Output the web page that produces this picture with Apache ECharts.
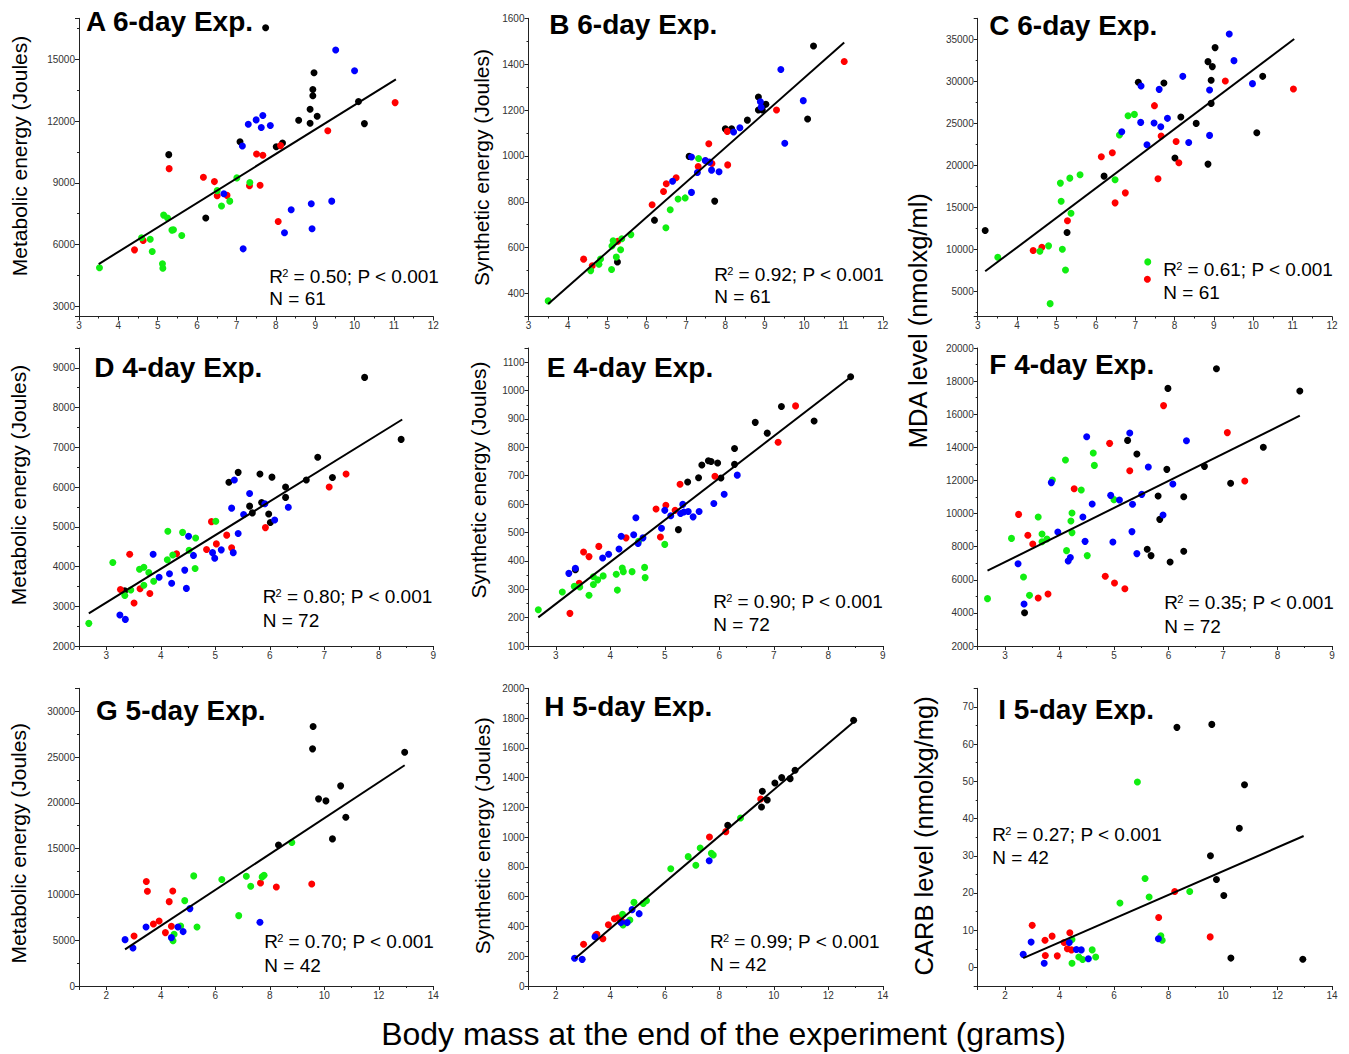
<!DOCTYPE html>
<html>
<head>
<meta charset="utf-8">
<script src="https://cdn.jsdelivr.net/npm/echarts@6/dist/echarts.min.js"></script>
<style>html,body{margin:0;padding:0;background:#fff}#c{width:1349px;height:1054px}</style>
</head>
<body>
<div id="c"></div>
<script>
// ---------------- DATA ----------------
const panelTitles = ['A 6-day Exp.','B 6-day Exp.','C 6-day Exp.','D 4-day Exp.','E 4-day Exp.','F 4-day Exp.','G 5-day Exp.','H 5-day Exp.','I 5-day Exp.'];
const r2Values = ['0.50','0.92','0.61','0.80','0.90','0.35','0.70','0.99','0.27'];
const nValues = ['61','61','61','72','72','72','42','42','42'];
const xAxisTitle = 'Body mass at the end of the experiment (grams)';
const yTitleEnergyMet = 'Metabolic energy (Joules)';
const yTitleEnergySyn = 'Synthetic energy (Joules)';
const yTitleMDA = 'MDA level (nmolxg/ml)';
const yTitleCARB = 'CARB level (nmolxg/mg)';
// axis ranges [min, max, tick step]
const xRanges = [[3,12,1],[2.5,9,1],[1,14,2]];
const yRanges = [[2500,17000,3000],[300,1600,200],[2000,37500,5000],[2000,9500,1000],[100,1150,100],[2000,20000,2000],[0,32500,5000],[0,2000,200],[-5,75,10]];

const A_black = [[5.28,10370],[6.22,7290],[7.09,11000],[7.74,16540],[8.01,10750],[8.17,10940],[8.58,12040],[8.87,12580],[8.87,11900],[8.94,13540],[8.94,13230],[8.97,14350],[9.05,12240],[10.10,12950],[10.25,11880]];
const A_red = [[4.41,5740],[4.63,6200],[5.29,9690],[6.16,9270],[6.44,9060],[6.51,8370],[6.76,8390],[7.33,8860],[7.51,10400],[7.60,8880],[7.67,10340],[8.06,7120],[8.12,10810],[9.32,11530],[11.03,12900]];
const A_green = [[3.52,4870],[4.59,6330],[4.81,6260],[4.86,5660],[5.12,5060],[5.13,4850],[5.15,7430],[5.25,7290],[5.36,6700],[5.40,6720],[5.61,6440],[6.51,8620],[6.62,7870],[6.83,8110],[7.01,9240],[7.34,9020]];
const A_blue = [[6.68,8470],[7.15,10790],[7.17,5790],[7.30,11850],[7.50,12060],[7.63,11690],[7.67,12270],[7.86,11790],[8.22,6570],[8.39,7690],[8.90,7980],[8.92,6770],[9.42,8110],[9.52,15460],[10.0,14450]];
const A_line = [[3.5,5050],[11.05,14030]];

const B_black = [[5.26,538],[6.20,720],[7.08,998],[7.73,803],[8.00,1118],[8.16,1118],[8.56,1156],[8.84,1257],[8.84,1200],[8.94,1200],[8.94,1215],[8.97,1222],[9.03,1225],[10.09,1161],[10.24,1479]];
const B_red = [[4.40,550],[4.62,521],[5.27,628],[6.14,787],[6.43,845],[6.50,879],[6.75,905],[7.31,954],[7.50,979],[7.58,1053],[7.66,967],[8.05,1107],[8.06,961],[9.30,1200],[11.02,1412]];
const B_green = [[3.50,368],[4.58,500],[4.79,528],[4.83,551],[5.11,505],[5.12,607],[5.15,630],[5.23,559],[5.34,591],[5.37,639],[5.60,657],[6.49,687],[6.60,765],[6.80,812],[6.98,817],[7.32,989]];
const B_blue = [[6.66,890],[7.14,995],[7.14,841],[7.29,928],[7.49,980],[7.60,973],[7.65,938],[7.84,931],[8.21,1104],[8.37,1123],[8.89,1236],[8.91,1212],[9.41,1377],[9.51,1055],[9.98,1241]];
const B_line = [[3.5,354],[11.02,1494]];

const C_black = [[3.19,12230],[5.27,11990],[6.21,18710],[7.08,29880],[7.73,29800],[8.01,20860],[8.16,25740],[8.55,24990],[8.85,32340],[8.85,20140],[8.93,27370],[8.93,30120],[8.96,31750],[9.03,34010],[10.09,23880],[10.24,30590]];
const C_red = [[4.41,9850],[4.63,10250],[5.28,13390],[6.14,21020],[6.42,21490],[6.49,15530],[6.75,16720],[7.31,6430],[7.49,27100],[7.58,18390],[7.66,23480],[8.04,22840],[8.11,20300],[9.29,30040],[11.02,29080]];
const C_green = [[3.51,9050],[4.58,9770],[4.80,10410],[4.84,3530],[5.10,17880],[5.12,15730],[5.15,10010],[5.23,7540],[5.34,18470],[5.37,14300],[5.60,18870],[6.49,18270],[6.60,23600],[6.82,25900],[6.98,26060],[7.32,8500]];
const C_blue = [[6.66,24000],[7.15,29440],[7.14,25110],[7.30,22450],[7.48,25030],[7.61,29040],[7.65,24590],[7.82,25590],[8.21,30590],[8.36,22720],[8.89,28960],[8.89,23560],[9.39,35640],[9.51,32460],[9.98,29720]];
const C_line = [[3.19,7380],[11.04,35040]];

const D_black = [[3.34,3390],[5.25,6120],[5.42,6370],[5.63,5520],[5.68,5350],[5.82,6330],[5.85,5610],[5.98,5320],[6.01,5110],[6.04,6250],[6.29,6000],[6.29,5740],[6.67,6180],[6.88,6750],[7.15,6240],[7.74,8760],[8.41,7200]];
const D_red = [[3.26,3420],[3.43,4310],[3.51,3080],[3.62,3440],[3.80,3320],[4.29,4320],[4.84,4430],[4.93,5130],[5.02,4570],[5.21,4790],[5.30,4470],[5.92,4980],[7.09,6000],[7.40,6330]];
const D_green = [[2.68,2570],[3.12,4100],[3.34,3270],[3.45,3410],[3.61,3930],[3.69,3980],[3.69,3530],[3.78,3850],[3.87,3630],[4.12,4170],[4.13,4890],[4.22,4290],[4.40,4860],[4.52,4410],[4.63,3950],[4.64,4720],[5.01,5140]];
const D_blue = [[3.25,2780],[3.35,2670],[3.86,4310],[3.97,3730],[4.16,3820],[4.20,3580],[4.44,3910],[4.47,3450],[4.51,4760],[4.60,4280],[4.95,4350],[4.99,4210],[5.11,4420],[5.30,5470],[5.35,6180],[5.33,4350],[5.42,4830],[5.52,5310],[5.63,5840],[5.91,5580],[6.09,5170],[6.34,5490]];
const D_line = [[2.68,2820],[8.43,7700]];

const E_black = [[3.36,369],[5.25,510],[5.42,678],[5.62,693],[5.68,738],[5.80,753],[5.85,750],[5.97,745],[6.03,692],[6.28,796],[6.28,740],[6.66,888],[6.88,850],[7.14,944],[7.74,893],[8.41,1049]];
const E_red = [[3.26,215],[3.43,321],[3.51,431],[3.61,415],[3.79,451],[4.29,481],[4.84,583],[4.92,484],[5.02,596],[5.19,578],[5.28,670],[5.92,698],[7.08,818],[7.40,946]];
const E_green = [[2.68,228],[3.12,290],[3.34,310],[3.44,308],[3.61,279],[3.69,344],[3.69,317],[3.77,333],[3.87,347],[4.11,353],[4.13,297],[4.22,375],[4.24,362],[4.40,362],[4.52,469],[4.63,377],[4.64,341],[5.00,458]];
const E_blue = [[3.24,356],[3.36,374],[3.86,410],[3.97,423],[4.16,442],[4.20,487],[4.43,492],[4.47,552],[4.51,461],[4.60,481],[4.94,515],[5.00,578],[5.11,559],[5.29,567],[5.33,599],[5.35,572],[5.43,574],[5.52,555],[5.63,574],[5.90,602],[6.09,635],[6.33,702]];
const E_line = [[2.68,201],[8.40,1046]];

const F_black = [[3.36,4010],[5.25,14420],[5.42,13600],[5.61,7840],[5.68,7460],[5.81,11060],[5.84,9650],[5.97,12670],[5.99,17560],[6.03,7070],[6.28,11020],[6.28,7720],[6.66,12850],[6.88,18750],[7.14,11830],[7.74,14000],[8.41,17400]];
const F_red = [[3.25,9950],[3.42,8690],[3.51,8160],[3.61,4900],[3.79,5140],[4.27,11500],[4.84,6210],[4.92,14240],[5.01,5810],[5.20,5460],[5.29,12590],[5.91,16520],[7.08,14890],[7.40,11970]];
const F_green = [[2.68,4860],[3.12,8500],[3.34,6170],[3.45,5060],[3.61,9790],[3.68,8770],[3.68,8300],[3.77,8460],[3.87,12030],[4.11,13240],[4.13,7760],[4.21,9550],[4.23,10030],[4.23,8850],[4.40,11420],[4.51,7460],[4.62,13660],[4.64,12910],[5.00,10840]];
const F_blue = [[3.24,6970],[3.35,4540],[3.85,11870],[3.97,8890],[4.16,7130],[4.20,7340],[4.43,9790],[4.47,8320],[4.50,14640],[4.60,10580],[4.94,11100],[4.98,8280],[5.10,10820],[5.29,14870],[5.33,8910],[5.34,10560],[5.42,7580],[5.51,11160],[5.63,12810],[5.90,9910],[6.08,11790],[6.33,14400]];
const F_line = [[2.68,6550],[8.41,15910]];

const G_black = [[8.32,15400],[9.59,28330],[9.57,25890],[9.79,20430],[10.06,20210],[10.30,16060],[10.60,21850],[10.79,18420],[12.95,25520]];
const G_red = [[3.02,5460],[3.47,11400],[3.51,10340],[3.73,6770],[3.94,7100],[4.17,5830],[4.31,9210],[4.39,6520],[4.44,10380],[7.66,11250],[8.24,10810],[9.54,11140]];
const G_green = [[4.45,4950],[4.49,5640],[4.73,6550],[4.88,9320],[5.21,12020],[5.33,6450],[6.24,11620],[6.86,7680],[7.14,11980],[7.30,10890],[7.72,11910],[7.79,12090],[8.81,15660]];
const G_blue = [[2.69,5060],[2.98,4150],[3.46,6450],[4.39,5280],[4.63,6450],[4.82,5940],[5.07,8450],[7.64,6950]];
const G_line = [[2.69,4000],[12.95,24100]];

const H_black = [[8.31,1080],[9.58,1308],[9.55,1203],[9.76,1250],[10.04,1364],[10.29,1400],[10.60,1393],[10.78,1449],[12.93,1785]];
const H_red = [[3.02,280],[3.47,343],[3.51,348],[3.73,318],[3.93,412],[4.15,452],[4.29,459],[4.39,440],[4.44,432],[7.64,1001],[8.24,1037],[9.52,1256]];
const H_green = [[4.45,482],[4.47,410],[4.72,443],[4.87,562],[5.21,555],[5.33,573],[6.22,788],[6.86,869],[7.14,811],[7.30,927],[7.71,891],[7.78,880],[8.78,1129]];
const H_blue = [[2.69,186],[2.97,179],[3.44,331],[4.39,426],[4.62,426],[4.80,513],[5.06,486],[7.63,842]];
const H_line = [[2.71,184],[12.93,1774]];

const I_black = [[8.31,64.5],[9.59,65.3],[10.79,49.1],[10.60,37.4],[9.54,30.0],[9.76,23.6],[10.03,19.3],[10.29,2.5],[12.93,2.2]];
const I_red = [[3.00,11.3],[3.47,7.3],[3.48,3.2],[3.73,8.4],[3.92,3.1],[4.17,6.7],[4.29,5.0],[4.38,9.3],[4.44,4.7],[7.64,13.4],[8.23,20.4],[9.53,8.2]];
const I_green = [[4.46,7.5],[4.46,1.1],[4.71,2.8],[4.85,2.1],[5.20,4.7],[5.33,2.8],[6.22,17.3],[6.86,49.8],[7.14,23.9],[7.29,18.9],[7.72,8.5],[7.77,7.3],[8.78,20.4]];
const I_blue = [[2.67,3.5],[2.96,6.8],[3.44,1.1],[4.36,6.7],[4.62,4.8],[4.80,4.7],[5.06,2.3],[7.63,7.7]];
const I_line = [[2.67,2.5],[12.96,35.3]];

// ---------------- LAYOUT / STYLE ----------------
const FONT = '"Liberation Sans", Arial, Helvetica, sans-serif';
const COLORS = ['#000000', '#ff0000', '#11ee11', '#0000ff'];
const groups = [
  [A_black, A_red, A_green, A_blue], [B_black, B_red, B_green, B_blue], [C_black, C_red, C_green, C_blue],
  [D_black, D_red, D_green, D_blue], [E_black, E_red, E_green, E_blue], [F_black, F_red, F_green, F_blue],
  [G_black, G_red, G_green, G_blue], [H_black, H_red, H_green, H_blue], [I_black, I_red, I_green, I_blue]
];
const lines = [A_line, B_line, C_line, D_line, E_line, F_line, G_line, H_line, I_line];

const colLeft = [79, 528.5, 977.7];
const colWidth = 354.3;
const rowTop = [18.3, 348, 688.3];
const rowHeight = [298.2, 298, 297.7];

const titlePos = [[86,31.7],[549.3,34.3],[989.3,35],[94.3,377.3],[546.7,377.3],[989.3,374.3],[96,720],[544.3,716],[998.3,719.3]];
const statPos = [[269.3,283,305],[714.3,281,303.3],[1163.3,276,299],[262.7,603.3,626.7],[713.3,608.3,631],[1164.3,609.3,632.7],[264.3,948.3,971.7],[710,948.3,971],[992.3,841,864.3]];
const yTitles = [
  [yTitleEnergyMet, 19.3, 156, 21], [yTitleEnergySyn, 481, 167.5, 21], [yTitleMDA, 917.7, 320.7, 25.5],
  [yTitleEnergyMet, 18.6, 485, 21], [yTitleEnergySyn, 478.6, 480, 21],
  [yTitleEnergyMet, 18.6, 843.3, 21], [yTitleEnergySyn, 482, 835.8, 21], [yTitleCARB, 924.3, 835.8, 25.5]
];

function isMult(v, s) { const q = v / s; return Math.abs(q - Math.round(q)) < 1e-9; }
function valueAxis(idx, range) {
  const [min, max, step] = range;
  const ax = {
    type: 'value', gridIndex: idx, min: min, max: max, scale: true,
    splitLine: { show: false },
    axisLine: { show: true, onZero: false, lineStyle: { color: '#222', width: 1 } },
    axisTick: { show: true, length: 4, lineStyle: { color: '#222', width: 1 } },
    minorTick: { show: true, splitNumber: 2, length: 2, lineStyle: { color: '#222', width: 1 } },
    axisLabel: {
      fontSize: 10, color: '#333', margin: 4, fontFamily: FONT,
      showMinLabel: isMult(min, step), showMaxLabel: isMult(max, step),
      formatter: function (v) { return isMult(v, step) ? String(Math.round(v * 1000) / 1000) : ''; }
    }
  };
  if (isMult(min, step)) {
    ax.interval = step;
  } else {
    ax.minInterval = step; ax.maxInterval = step;
    ax.splitNumber = Math.round((max - min) / step);
  }
  return ax;
}

const grids = [], xAxes = [], yAxes = [], series = [], graphics = [];
for (let i = 0; i < 9; i++) {
  const r = Math.floor(i / 3), c = i % 3;
  grids.push({ left: colLeft[c], top: rowTop[r], width: colWidth, height: rowHeight[r], containLabel: false, outerBoundsMode: 'none' });
  xAxes.push(valueAxis(i, xRanges[r]));
  yAxes.push(valueAxis(i, yRanges[i]));
  groups[i].forEach(function (g, k) {
    series.push({
      type: 'scatter', xAxisIndex: i, yAxisIndex: i, data: g,
      symbol: 'circle', symbolSize: 7, itemStyle: { color: COLORS[k], opacity: 1 }, z: 2, silent: true
    });
  });
  series.push({
    type: 'line', xAxisIndex: i, yAxisIndex: i, data: lines[i], symbol: 'none',
    lineStyle: { color: '#000', width: 2 }, z: 3, silent: true
  });
  // panel title
  graphics.push({ type: 'text', x: titlePos[i][0], y: titlePos[i][1] - 0.35 * 28, z: 10,
    style: { text: panelTitles[i], fontSize: 28, fontWeight: 'bold', fontFamily: FONT, fill: '#000', align: 'left', verticalAlign: 'middle' } });
  // stats
  const [sx, sb, nb] = statPos[i];
  const F = 19;
  graphics.push({ type: 'text', x: sx, y: sb - 0.35 * F, z: 10,
    style: { text: 'R', fontSize: F, fontFamily: FONT, fill: '#000', align: 'left', verticalAlign: 'middle' } });
  graphics.push({ type: 'text', x: sx + 12.9, y: sb - 6.3 - 0.35 * 11, z: 10,
    style: { text: '2', fontSize: 11, fontFamily: FONT, fill: '#000', align: 'left', verticalAlign: 'middle' } });
  graphics.push({ type: 'text', x: sx + 18.9, y: sb - 0.35 * F, z: 10,
    style: { text: ' = ' + r2Values[i] + '; P < 0.001', fontSize: F, fontFamily: FONT, fill: '#000', align: 'left', verticalAlign: 'middle' } });
  graphics.push({ type: 'text', x: sx, y: nb - 0.35 * F, z: 10,
    style: { text: 'N = ' + nValues[i], fontSize: F, fontFamily: FONT, fill: '#000', align: 'left', verticalAlign: 'middle' } });
}
yTitles.forEach(function (t) {
  graphics.push({ type: 'text', x: t[1], y: t[2], rotation: Math.PI / 2, z: 10,
    style: { text: t[0], fontSize: t[3], fontFamily: FONT, fill: '#000', align: 'center', verticalAlign: 'middle' } });
});
graphics.push({ type: 'text', x: 723.5, y: 1045 - 0.35 * 32, z: 10,
  style: { text: xAxisTitle, fontSize: 32, fontFamily: FONT, fill: '#000', align: 'center', verticalAlign: 'middle' } });

const chart = echarts.init(document.getElementById('c'), null, { renderer: 'svg', width: 1349, height: 1054 });
chart.setOption({
  animation: false,
  backgroundColor: '#ffffff',
  grid: grids,
  xAxis: xAxes,
  yAxis: yAxes,
  series: series,
  graphic: { elements: graphics }
});
</script>
</body>
</html>
